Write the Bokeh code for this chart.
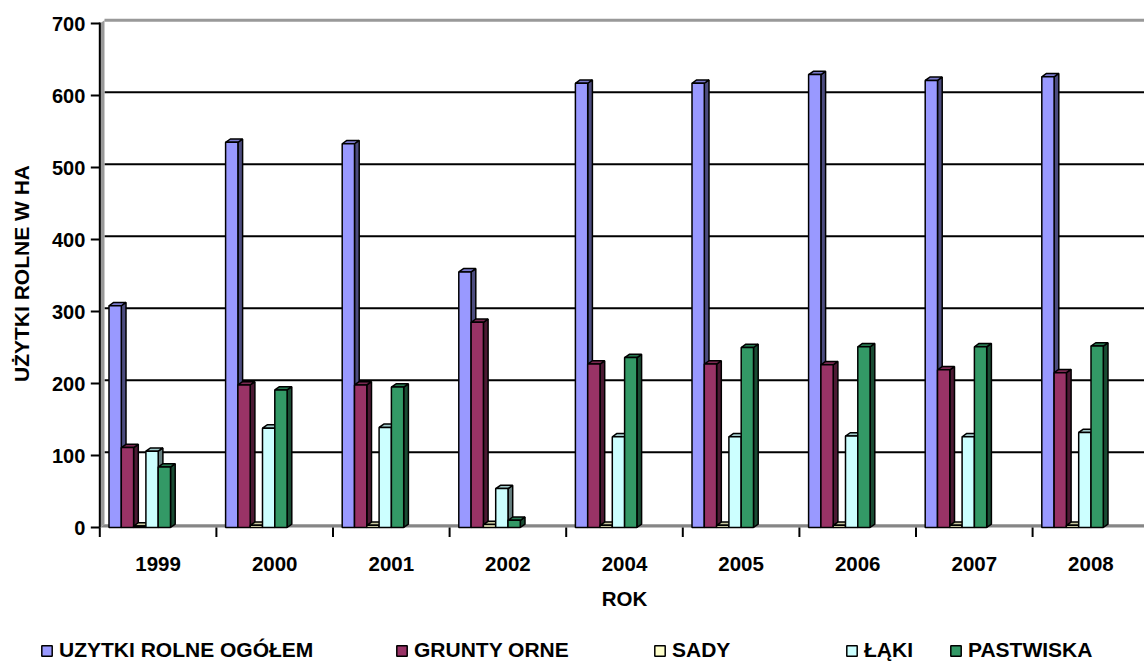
import math
from bokeh.plotting import figure
from bokeh.models import Range1d, Legend, LegendItem
from bokeh.core.properties import value
from bokeh.embed import file_html
from bokeh.resources import INLINE

# ---------------- data ----------------
years = ["1999", "2000", "2001", "2002", "2004", "2005", "2006", "2007", "2008"]
series_names = ["UZYTKI ROLNE OGÓŁEM", "GRUNTY ORNE", "SADY", "ŁĄKI", "PASTWISKA"]
uzytki_ogolem = [308, 535, 533, 355, 617, 617, 629, 621, 626]
grunty_orne = [111, 198, 198, 285, 227, 227, 226, 219, 215]
sady = [2, 3, 3, 4, 3, 3, 3, 3, 3]
laki = [106, 138, 139, 54, 126, 126, 127, 126, 132]
pastwiska = [84, 191, 195, 10, 236, 250, 251, 251, 252]
y_ticks = [0, 100, 200, 300, 400, 500, 600, 700]
y_title = "UŻYTKI ROLNE W HA"
x_title = "ROK"
series_values = [uzytki_ogolem, grunty_orne, sady, laki, pastwiska]
colors = ["#9999FF", "#993366", "#FFFFCC", "#CCFFFF", "#339966"]

# ---------------- layout (pixels) ----------------
FONT = "Liberation Sans"
W, H = 1144, 662
X0_PX = 99.3          # left boundary of first category
Y0_PX = 527.0         # value 0 (front)
PX_X = 116.6          # pixels per category
PX_Y = 0.72           # pixels per hectare


def ux(px):   # pixel distance -> x data units
    return px / PX_X


def uy(px):   # pixel distance -> y data units
    return px / PX_Y


x_min = -0.5 - ux(X0_PX)
x_max = -0.5 + ux(W - X0_PX)
y_max = uy(Y0_PX)
y_min = -uy(H - Y0_PX)

bar_w = ux(12.3)
bar_start = ux(9.2)
dx = ux(4.7)
dy = uy(3.3)


def shade(hex_color, f):
    h = hex_color.lstrip("#")
    r, g, b = (int(h[i:i + 2], 16) for i in (0, 2, 4))
    return "#%02x%02x%02x" % (int(r * f), int(g * f), int(b * f))


p = figure(width=W, height=H, output_backend="svg", toolbar_location=None,
           x_range=Range1d(x_min, x_max), y_range=Range1d(y_min, y_max),
           x_axis_type=None, y_axis_type=None,
           min_border_left=0, min_border_right=0, min_border_top=0, min_border_bottom=0)
p.outline_line_color = None
p.background_fill_color = "white"
p.border_fill_color = "white"

n = len(years)
x_lo = -0.5
x_hi = x_max + 1
top_val = y_ticks[-1]

# back-wall gridlines
grid_vals = [t for t in y_ticks if 0 < t < top_val]
p.segment(x0=[x_lo + dx] * len(grid_vals), x1=[x_hi] * len(grid_vals),
          y0=[t + dy for t in grid_vals], y1=[t + dy for t in grid_vals],
          line_color="black", line_width=2)
# top edge of the back wall
p.segment(x0=[x_lo + dx], x1=[x_hi], y0=[top_val + dy], y1=[top_val + dy],
          line_color="#999999", line_width=3)
# side wall
p.patch(x=[x_lo, x_lo + dx, x_lo + dx, x_lo], y=[0, dy, top_val + dy, top_val],
        fill_color="#999999", line_color=None)
# floor
p.patch(x=[x_lo, x_hi, x_hi + dx, x_lo + dx], y=[0, 0, dy, dy],
        fill_color="#868686", line_color=None)

# bars (front, side and top faces)
front_renderers = []
for i, (vals, col) in enumerate(zip(series_values, colors)):
    lefts = [k - 0.5 + bar_start + i * bar_w for k in range(n)]
    rights = [l + bar_w for l in lefts]
    p.patches(xs=[[r, r + dx, r + dx, r] for r in rights],
              ys=[[0, dy, v + dy, v] for v in vals],
              fill_color=shade(col, 0.5), line_color="black", line_width=1.5)
    p.patches(xs=[[l, l + dx, r + dx, r] for l, r in zip(lefts, rights)],
              ys=[[v, v + dy, v + dy, v] for v in vals],
              fill_color=shade(col, 0.8), line_color="black", line_width=1.5)
    fr = p.vbar(x=[l + bar_w / 2 for l in lefts], top=vals, bottom=0, width=bar_w,
                fill_color=col, line_color="black", line_width=1.5)
    front_renderers.append(fr)

# y axis: line, ticks, labels, title
p.segment(x0=[x_lo], x1=[x_lo], y0=[0], y1=[top_val + uy(1)], line_color="black", line_width=2)
p.segment(x0=[x_lo - ux(9)] * len(y_ticks), x1=[x_lo] * len(y_ticks),
          y0=y_ticks, y1=y_ticks, line_color="black", line_width=2)
p.text(x=[x_lo - ux(14.5)] * len(y_ticks), y=y_ticks, text=[str(t) for t in y_ticks],
       text_align="right", text_baseline="middle", text_color="black",
       text_font=value(FONT), text_font_style="bold", text_font_size=value("20px"))
p.text(x=[x_lo - ux(X0_PX - 21)], y=[uy(Y0_PX - 273)], text=[y_title], angle=math.pi / 2,
       text_align="center", text_baseline="alphabetic", text_color="black",
       text_font=value(FONT), text_font_style="bold", text_font_size=value("21px"))

# x axis: boundary ticks, category labels, title
bounds = [k - 0.5 for k in range(n + 1)]
p.segment(x0=bounds, x1=bounds, y0=[0] * len(bounds), y1=[-uy(9.5)] * len(bounds),
          line_color="black", line_width=2)
p.text(x=list(range(n)), y=[-uy(563.3 - Y0_PX)] * n, text=years,
       text_align="center", text_baseline="alphabetic", text_color="black",
       text_font=value(FONT), text_font_style="bold", text_font_size=value("20.5px"))
p.text(x=[(n - 1) / 2], y=[-uy(598.3 - Y0_PX)], text=[x_title],
       text_align="center", text_baseline="alphabetic", text_color="black",
       text_font=value(FONT), text_font_style="bold", text_font_size=value("20.5px"))

# legend entries
legend_x = [40, 395, 653, 845, 949]
for name, fr, lx in zip(series_names, front_renderers, legend_x):
    lg = Legend(items=[LegendItem(label=name, renderers=[fr])], location=(lx, 0),
                orientation="horizontal", padding=0, margin=0, spacing=0,
                border_line_color=None, background_fill_alpha=0,
                glyph_width=13, glyph_height=13, label_standoff=6, label_height=14,
                label_text_color="black",
                label_text_font=FONT, label_text_font_style="bold",
                label_text_font_size="21px")
    p.add_layout(lg, "center")

open("out.html", "w").write(file_html(p, INLINE))
